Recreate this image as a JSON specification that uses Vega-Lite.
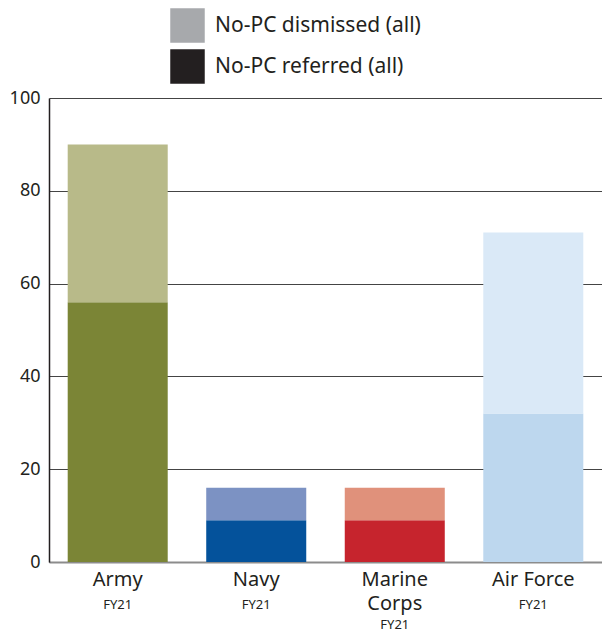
{
  "$schema": "https://vega.github.io/schema/vega-lite/v6.json",
  "width": 553,
  "height": 464,
  "autosize": {"type": "none"},
  "padding": {"left": 49, "top": 98, "right": 0, "bottom": 71},
  "background": "white",
  "config": {
    "view": {"stroke": null},
    "font": "Noto Sans",
    "axis": {"labelColor": "#231f20", "labelFont": "Noto Sans", "ticks": false, "title": null}
  },
  "data": {
    "values": [
      {"service": "Army", "type": "No-PC referred (all)", "bar": "Army referred", "value": 56},
      {"service": "Army", "type": "No-PC dismissed (all)", "bar": "Army dismissed", "value": 34},
      {"service": "Navy", "type": "No-PC referred (all)", "bar": "Navy referred", "value": 9},
      {"service": "Navy", "type": "No-PC dismissed (all)", "bar": "Navy dismissed", "value": 7},
      {"service": "Marine Corps", "type": "No-PC referred (all)", "bar": "Marine Corps referred", "value": 9},
      {"service": "Marine Corps", "type": "No-PC dismissed (all)", "bar": "Marine Corps dismissed", "value": 7},
      {"service": "Air Force", "type": "No-PC referred (all)", "bar": "Air Force referred", "value": 32},
      {"service": "Air Force", "type": "No-PC dismissed (all)", "bar": "Air Force dismissed", "value": 39}
    ]
  },
  "layer": [
    {
      "mark": {"type": "bar", "opacity": 0},
      "encoding": {
        "x": {
          "field": "service", "type": "nominal",
          "sort": ["Army", "Navy", "Marine Corps", "Air Force"],
          "scale": {"paddingInner": 0.278, "paddingOuter": 0.135},
          "axis": {
            "orient": "bottom", "domain": false, "labelAngle": 0, "labelFontSize": 13, "labelBaseline": "top",
            "labelPadding": {"condition": {"test": "datum.value == 'Marine Corps'", "value": 56}, "value": 36},
            "labelExpr": "'FY21'"
          }
        },
        "y": {
          "field": "value", "type": "quantitative", "aggregate": "sum",
          "scale": {"domain": [0, 100], "nice": false},
          "axis": {
            "values": [0, 20, 40, 60, 80, 100], "labelFontSize": 18, "labelPadding": 9,
            "domainColor": "#231f20", "domainWidth": 1.5, "gridColor": "#444444", "gridWidth": 1
          }
        },
        "color": {
          "field": "type", "type": "nominal",
          "scale": {"domain": ["No-PC dismissed (all)", "No-PC referred (all)"], "range": ["#a7a9ac", "#231f20"]},
          "legend": {
            "title": null, "orient": "none", "legendX": 121, "legendY": -90,
            "symbolType": "square", "symbolSize": 1190, "symbolStrokeWidth": 0,
            "labelFontSize": 21, "labelColor": "#231f20", "labelOffset": 10, "rowPadding": 6, "labelLimit": 0
          }
        },
        "order": {"field": "type", "sort": "descending"}
      }
    },
    {
      "mark": {"type": "bar"},
      "encoding": {
        "x": {
          "field": "service", "type": "nominal",
          "sort": ["Army", "Navy", "Marine Corps", "Air Force"],
          "scale": {"paddingInner": 0.278, "paddingOuter": 0.135},
          "axis": {
            "orient": "bottom", "labelAngle": 0, "labelFontSize": 20, "labelBaseline": "top", "labelPadding": 7,
            "labelLineHeight": 24, "domainColor": "#8c8c8c", "domainWidth": 2,
            "labelExpr": "datum.value == 'Marine Corps' ? ['Marine', 'Corps'] : datum.value"
          }
        },
        "y": {"field": "value", "type": "quantitative", "aggregate": "sum"},
        "fill": {
          "field": "bar", "type": "nominal",
          "scale": {
            "domain": ["Army referred", "Army dismissed", "Navy referred", "Navy dismissed", "Marine Corps referred", "Marine Corps dismissed", "Air Force referred", "Air Force dismissed"],
            "range": ["#7b8536", "#b8ba89", "#04529b", "#7c92c3", "#c6242d", "#e0917b", "#bdd7ee", "#dae9f7"]
          },
          "legend": null
        },
        "order": {"field": "type", "sort": "descending"}
      }
    }
  ],
  "resolve": {"axis": {"x": "independent"}}
}
